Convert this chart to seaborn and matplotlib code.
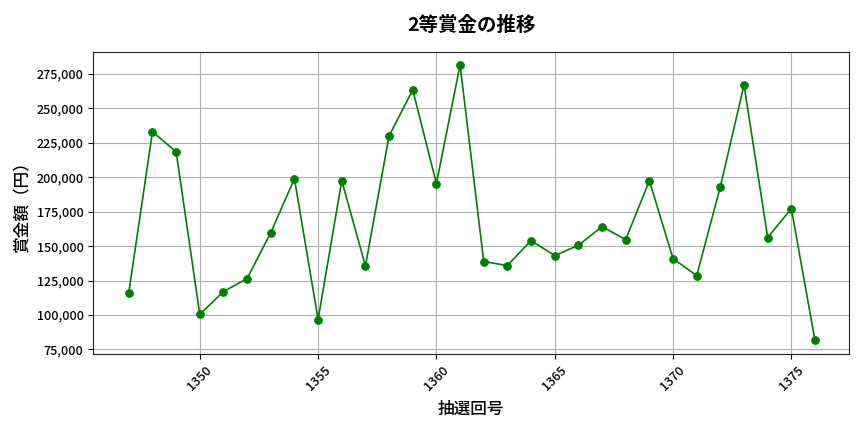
import matplotlib
matplotlib.use("Agg")
import matplotlib.pyplot as plt
import matplotlib.ticker as mticker
import seaborn as sb
import pandas as pd

kaigo = list(range(1347, 1377))
shokin = [116300, 233000, 218500, 100400, 117000, 126400, 159800, 198900, 96700, 197500,
          135600, 230000, 263400, 195300, 281500, 138800, 135900, 154000, 143100, 150600,
          164100, 154700, 197500, 140900, 128600, 193100, 267000, 156200, 177200, 81500]

t = pd.DataFrame({"kaigo": kaigo, "shokin": shokin})

sb.set_style("ticks")
plt.rcParams['font.family'] = ['Noto Sans CJK JP', 'DejaVu Sans']

fig = plt.figure(figsize=(8.64, 4.32), dpi=100)
ax = fig.add_subplot(1, 1, 1)
sb.lineplot(data=t, x="kaigo", y="shokin", color="green", marker="o", markersize=5.5,
            markeredgecolor="green", linewidth=1.2, ax=ax)
ax.set_title("2等賞金の推移", fontsize=14, pad=15, weight="bold", color="black")
ax.set_xlabel("抽選回号", fontsize=12, labelpad=5, weight="medium", color="black")
ax.set_ylabel("賞金額（円）", fontsize=12, weight="medium", color="black")
ax.yaxis.set_major_formatter(mticker.FuncFormatter(lambda v, p: f"{int(v):,}"))
ax.xaxis.set_major_locator(mticker.MultipleLocator(5))
ax.tick_params(axis="x", rotation=45, labelsize=9, labelcolor="black", color="black")
ax.tick_params(axis="y", labelsize=9, labelcolor="black", color="black")
for lbl in ax.get_xticklabels() + ax.get_yticklabels():
    lbl.set_fontweight("medium")
for s in ax.spines.values():
    s.set_color("#222222")
ax.grid(True, color="#b0b0b0", linewidth=0.8)
ax.set_xlim(1345.5, 1377.45)
ax.set_ylim(71500, 291000)
fig.subplots_adjust(left=0.108, right=0.983, top=0.88, bottom=0.18)
fig.savefig("out.png", dpi=100)
